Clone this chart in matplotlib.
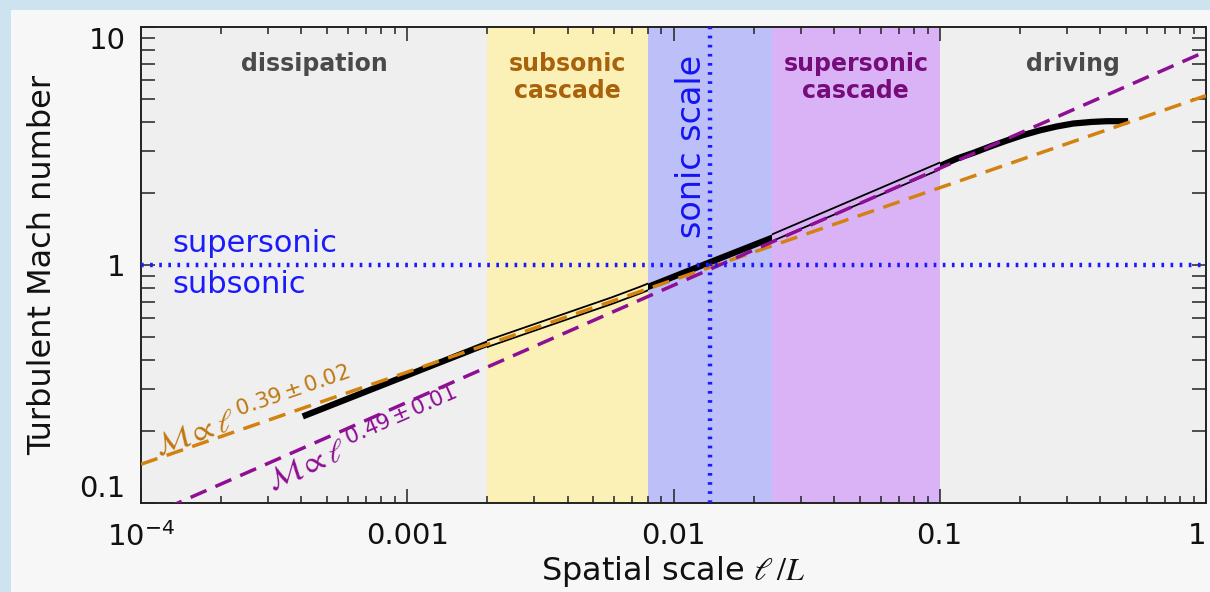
import numpy as np
import matplotlib.pyplot as plt
from matplotlib.patches import Rectangle
from matplotlib.ticker import NullFormatter

plt.rcParams['font.family'] = 'DejaVu Sans'
plt.rcParams['mathtext.fontset'] = 'stix'

# Mach number vs. spatial scale (measured curve)
scale = [4.05e-4, 0.00202, 0.0059, 0.0075, 0.0135, 0.0234, 0.102,
         0.116, 0.134, 0.155, 0.178, 0.205, 0.238, 0.275, 0.317, 0.37, 0.424, 0.51]
mach = [0.231, 0.469, 0.71, 0.785, 1.02, 1.30, 2.63,
        2.80, 2.96, 3.15, 3.33, 3.51, 3.68, 3.82, 3.93, 3.99, 4.02, 4.02]

# power-law fits, values at the plot edges
fit_scale = [1e-4, 1.0]
fit_subsonic = [0.1455, 5.15]     # M ~ l^0.39
fit_supersonic = [0.0855, 7.9]    # M ~ l^0.49

# regimes
region_names = ['dissipation', 'subsonic\ncascade', 'sonic scale',
                'supersonic\ncascade', 'driving']
region_edges = [1e-4, 0.002, 0.008, 0.0234, 0.1, 1.0]
sonic_scale = 0.0137

x_ticks = [1e-4, 1e-3, 1e-2, 1e-1, 1]
x_tick_labels = [r'$\mathdefault{10^{-4}}$', '0.001', '0.01', '0.1', '1']
y_ticks = [0.1, 1, 10]
y_tick_labels = ['0.1', '1', '10']

band_colors = [None, '#fbf0b6', '#bcbff8', '#dab3f7', None]
label_colors = ['#4a4a4a', '#a8620c', '#1414f0', '#760c7a', '#4a4a4a']
orange = '#d4820f'
purple = '#8e0e94'
blue = '#1a1aff'

fig = plt.figure(figsize=(12.1, 5.92), dpi=100)
fig.patch.set_facecolor('#cde3f0')
fig.add_artist(Rectangle((11 / 1210, 0), 1, 1 - 10 / 592, transform=fig.transFigure,
                         facecolor='#f7f7f7', edgecolor='none', zorder=-1))

ax = fig.add_axes([141 / 1210, 1 - 503 / 592, 1065 / 1210, 476 / 592])
ax.set_facecolor('#efefef')
ax.set_xscale('log')
ax.set_yscale('log')
ax.set_xlim(1e-4, 1)
ax.set_ylim(0.1, 10)

# coloured bands for the cascade regimes
spans = {}
for i, c in enumerate(band_colors):
    if c is not None:
        spans[i] = ax.axvspan(region_edges[i], region_edges[i + 1], color=c, lw=0, zorder=0)

# measured curve; hollow (outlined) inside the two fit ranges
ax.plot(scale, mach, color='black', lw=4.5, solid_capstyle='butt',
        solid_joinstyle='round', zorder=2)
for i in (1, 3):
    outer, = ax.plot(scale, mach, color='black', lw=5.8,
                     solid_joinstyle='round', zorder=2.05)
    outer.set_clip_path(spans[i])
    inner, = ax.plot(scale, mach, color=band_colors[i], lw=3.2,
                     solid_joinstyle='round', zorder=2.1)
    inner.set_clip_path(spans[i])

# fits
ax.plot(fit_scale, fit_subsonic, color=orange, lw=2.5, dashes=(5, 2.8), zorder=3)
ax.plot(fit_scale, fit_supersonic, color=purple, lw=2.5, dashes=(5, 2.8), zorder=3)

# sonic lines
ax.axhline(1, color=blue, lw=3.2, linestyle=(0, (0.6, 1.45)), zorder=4)
ax.axvline(sonic_scale, color=blue, lw=3.2, linestyle=(0, (0.6, 1.45)), zorder=4)

# regime labels
for i, name in enumerate(region_names):
    if name == 'sonic scale':
        ax.text(0.0117, 3.15, name, rotation=90, ha='center', va='center',
                fontsize=24, color=label_colors[i], zorder=5)
        continue
    xc = np.sqrt(region_edges[i] * region_edges[i + 1])
    ax.text(xc, 0.948, name, transform=ax.get_xaxis_transform(), ha='center', va='top',
            fontsize=17, fontweight='bold', color=label_colors[i], linespacing=1.15,
            zorder=5)

ax.text(1.31e-4, 1.134, 'supersonic', fontsize=22, color=blue, ha='left', va='baseline')
ax.text(1.31e-4, 0.763, 'subsonic', fontsize=22, color=blue, ha='left', va='baseline')

ax.text(1.16e-4, 0.158, r'$\mathcal{M}\propto\ell^{\,\mathdefault{0.39\pm0.02}}$',
        color='#c07810', fontsize=22, rotation=19, rotation_mode='anchor',
        ha='left', va='baseline')
ax.text(3.1e-4, 0.1123, r'$\mathcal{M}\propto\ell^{\,\mathdefault{0.49\pm0.01}}$',
        color=purple, fontsize=22, rotation=23.6, rotation_mode='anchor',
        ha='left', va='baseline')

# axes and ticks
ax.set_xticks(x_ticks, labels=x_tick_labels)
ax.set_yticks(y_ticks, labels=y_tick_labels)
ax.xaxis.set_minor_formatter(NullFormatter())
ax.yaxis.set_minor_formatter(NullFormatter())
ax.tick_params(which='both', direction='in', top=True, right=True, width=1.1,
               color='#222222', labelsize=21, labelcolor='#111111')
ax.tick_params(axis='x', which='major', length=10, pad=14)
ax.tick_params(axis='x', which='minor', length=5)
ax.tick_params(axis='y', which='both', length=10, pad=11)
for tick, va in zip(ax.yaxis.get_major_ticks(), ['bottom', 'center_baseline', 'top']):
    tick.label1.set_va(va)
ax.xaxis.get_major_ticks()[-1].label1.set_ha('right')
for sp in ax.spines.values():
    sp.set_linewidth(1.4)
    sp.set_color('#222222')

ax.set_xlabel(r'Spatial scale $\ell\,/L$', fontsize=23, color='#111111')
ax.set_ylabel('Turbulent Mach number', fontsize=23, color='#111111')
ax.xaxis.set_label_coords(0.5, -0.108)
ax.yaxis.set_label_coords(-0.078, 0.5)

fig.savefig('out.png', dpi=100, facecolor=fig.get_facecolor())
